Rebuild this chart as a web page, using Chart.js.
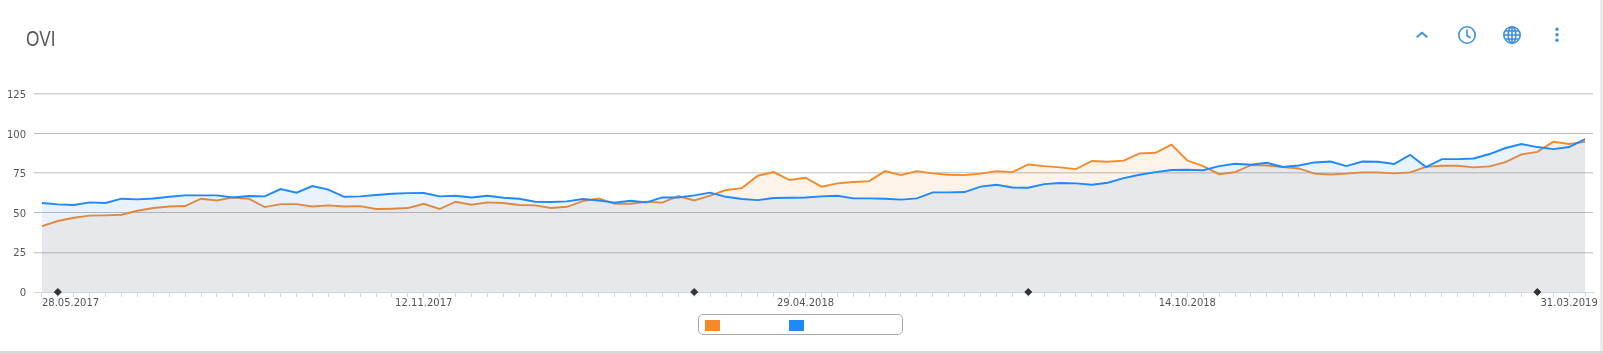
<!DOCTYPE html>
<html>
<head>
<meta charset="utf-8">
<title>OVI</title>
<script src="https://cdn.jsdelivr.net/npm/chart.js@4"></script>
<style>
    html, body { margin: 0; padding: 0; background: #fff; overflow: hidden; }
    #card { position: relative; width: 1603px; height: 354px; box-sizing: border-box; overflow: hidden; }
    #card:before { content: ''; position: absolute; right: 0; top: 0; width: 3px; height: 100%; background: #ececec; }
    #card:after { content: ''; position: absolute; left: 0; bottom: 0; width: 100%; height: 3px; background: #d8d8d8; }
    #chart { position: absolute; left: 0; top: 0; }
    #title { position: absolute; left: 26px; top: 26px; font: 22px "Liberation Sans", sans-serif; color: #555; transform: scaleX(0.78); transform-origin: left top; }
    .icon { position: absolute; top: 23px; width: 24px; height: 24px; fill: none; stroke: #3d8fdc; stroke-width: 1.6; }
    #legend { position: absolute; left: 698px; top: 314px; width: 205px; height: 21px; box-sizing: border-box; border: 1px solid #a9a9a9; border-radius: 5px; }
    #legend span { position: absolute; top: 5px; width: 15px; height: 11px; }
</style>
</head>
<body>
<div id="card">
    <canvas id="chart" width="1603" height="354"></canvas>
    <div id="title">OVI</div>

    <svg class="icon" style="left:1410px" viewBox="0 0 24 24"><path d="M6.7 14.3 L12 9.7 L17.3 14.3" stroke-width="1.8"/></svg>
    <svg class="icon" style="left:1455px" viewBox="0 0 24 24"><circle cx="12" cy="12" r="8.2"/><path d="M12 6.5 V12.5 L15.5 15"/></svg>
    <svg class="icon" style="left:1500px" viewBox="0 0 24 24"><circle cx="12" cy="12" r="8.2"/><ellipse cx="12" cy="12" rx="3.8" ry="8.2"/><path d="M12 3.8 V20.2 M3.8 12 H20.2 M5 8 H19 M5 16 H19"/></svg>
    <svg class="icon" style="left:1545px;stroke:none;fill:#3d8fdc" viewBox="0 0 24 24"><circle cx="12" cy="6.3" r="1.7"/><circle cx="12" cy="11.8" r="1.7"/><circle cx="12" cy="17.3" r="1.7"/></svg>

    <div id="legend"></div>
</div>

<script>
var firstWeek = Date.UTC(2017, 4, 28);
var weekCount = 98;

var shownDates = ['28.05.2017', '12.11.2017', '29.04.2018', '14.10.2018', '31.03.2019'];

var orangeValues = [
    41.6, 44.8, 46.9, 48.2, 48.4, 48.8, 51.3, 53.0, 54.0, 54.3,
    58.9, 57.8, 59.7, 58.9, 53.6, 55.5, 55.5, 54.0, 54.7, 54.0,
    54.2, 52.4, 52.6, 53.0, 55.7, 52.4, 57.0, 55.1, 56.6, 56.2,
    54.9, 54.7, 53.0, 53.8, 57.4, 59.1, 55.7, 55.7, 57.0, 56.4,
    60.6, 57.8, 60.8, 64.4, 65.6, 73.4, 75.7, 70.7, 72.1, 66.5,
    68.6, 69.4, 70.0, 76.3, 73.8, 76.3, 74.9, 74.0, 73.8, 74.7,
    76.3, 75.7, 80.5, 79.5, 78.7, 77.6, 82.7, 82.2, 82.9, 87.5,
    87.9, 93.0, 83.0, 79.5, 74.4, 75.7, 80.1, 79.9, 78.9, 78.0,
    74.7, 74.2, 74.7, 75.5, 75.5, 74.9, 75.5, 79.0, 79.7, 79.7,
    78.7, 79.3, 82.0, 86.9, 88.5, 94.8, 93.4, 94.8
];

var blueValues = [
    56.2, 55.3, 54.9, 56.6, 56.2, 58.9, 58.5, 59.0, 60.1, 61.0,
    61.0, 61.0, 59.7, 60.6, 60.4, 65.0, 62.7, 66.9, 64.6, 60.1,
    60.4, 61.2, 62.0, 62.4, 62.5, 60.4, 60.8, 59.7, 60.8, 59.5,
    58.9, 57.0, 56.8, 57.2, 58.7, 57.8, 56.4, 57.6, 56.6, 59.7,
    59.7, 61.0, 62.7, 60.1, 58.7, 58.0, 59.3, 59.5, 59.7, 60.4,
    60.8, 59.1, 59.1, 58.9, 58.3, 59.1, 62.9, 62.9, 63.1, 66.5,
    67.7, 66.0, 65.8, 68.1, 68.8, 68.6, 67.7, 69.0, 71.9, 74.0,
    75.7, 77.0, 77.2, 76.9, 79.5, 81.0, 80.3, 81.6, 78.9, 79.9,
    81.8, 82.4, 79.5, 82.4, 82.2, 80.8, 86.6, 78.9, 83.9, 83.9,
    84.3, 87.1, 90.9, 93.4, 91.5, 90.2, 91.5, 96.5
];

var eventWeeks = [1, 41, 62, 94];

var orangeColor = '#f58a2b';
var blueColor = '#1e88ff';

function formatWeek(i) {
    var d = new Date(firstWeek + i * 7 * 24 * 3600 * 1000);
    var day = String(d.getUTCDate()).padStart(2, '0');
    var month = String(d.getUTCMonth() + 1).padStart(2, '0');
    return day + '.' + month + '.' + d.getUTCFullYear();
}

var categories = [];
var eventValues = [];
for (var i = 0; i < weekCount; i++) {
    categories.push(formatWeek(i));
    eventValues.push(eventWeeks.includes(i) ? 0 : null);
}

var ctx = document.getElementById('chart').getContext('2d');
var chart = new Chart(ctx, {
    type: 'line',
    data: {
        labels: categories,
        datasets: [
            {
                label: 'Series 1',
                data: orangeValues,
                borderColor: orangeColor,
                backgroundColor: 'rgba(245,138,43,0.1)',
                borderWidth: 1.9,
                pointRadius: 0,
                tension: 0,
                fill: 'origin',
                order: 2
            },
            {
                label: 'Series 2',
                data: blueValues,
                borderColor: blueColor,
                backgroundColor: 'rgba(30,136,255,0.1)',
                borderWidth: 1.9,
                pointRadius: 0,
                tension: 0,
                fill: 'origin',
                order: 1
            },
            {
                label: 'Events',
                data: eventValues,
                showLine: false,
                pointStyle: 'rectRot',
                pointRadius: 3.5,
                pointBackgroundColor: '#333',
                pointBorderColor: '#333',
                clip: false,
                order: 0
            }
        ]
    },
    options: {
        responsive: false,
        animation: false,
        events: [],
        layout: {
            padding: { top: 94, right: 10, left: 0, bottom: 0 }
        },
        plugins: {
            legend: { display: false },
            title: { display: false },
            tooltip: { enabled: false }
        },
        scales: {
            x: {
                offset: true,
                afterFit: function(scale) { scale.height = 62; },
                border: { color: '#ccd6eb', width: 1 },
                grid: {
                    offset: false,
                    drawOnChartArea: false,
                    tickLength: 5,
                    tickColor: '#ccd6eb'
                },
                ticks: {
                    autoSkip: false,
                    maxRotation: 0,
                    minRotation: 0,
                    align: 'inner',
                    padding: 0,
                    color: '#555',
                    font: { family: 'DejaVu Sans', size: 10 },
                    callback: function(value) {
                        var label = this.getLabelForValue(value);
                        return shownDates.includes(label) ? label : '';
                    }
                }
            },
            y: {
                min: 0,
                max: 125,
                afterFit: function(scale) { scale.width = 34; },
                border: { display: false },
                grid: {
                    drawTicks: false,
                    color: function(c) {
                        if (c.tick.value === 0) return 'transparent';
                        return c.tick.value === 100 || c.tick.value === 50 ? '#bdbdbd' : '#d2d2d2';
                    },
                    lineWidth: function(c) {
                        return c.tick.value === 100 || c.tick.value === 50 ? 1 : 1.5;
                    }
                },
                ticks: {
                    stepSize: 25,
                    padding: 8,
                    labelOffset: 1.5,
                    color: '#555',
                    font: { family: 'DejaVu Sans', size: 10 }
                }
            }
        }
    }
});

// legend box, names are blank in the source picture
var legend = document.getElementById('legend');
[[orangeColor, 6], [blueColor, 90]].forEach(function(item) {
    var swatch = document.createElement('span');
    swatch.style.background = item[0];
    swatch.style.left = item[1] + 'px';
    legend.appendChild(swatch);
});
</script>
</body>
</html>
